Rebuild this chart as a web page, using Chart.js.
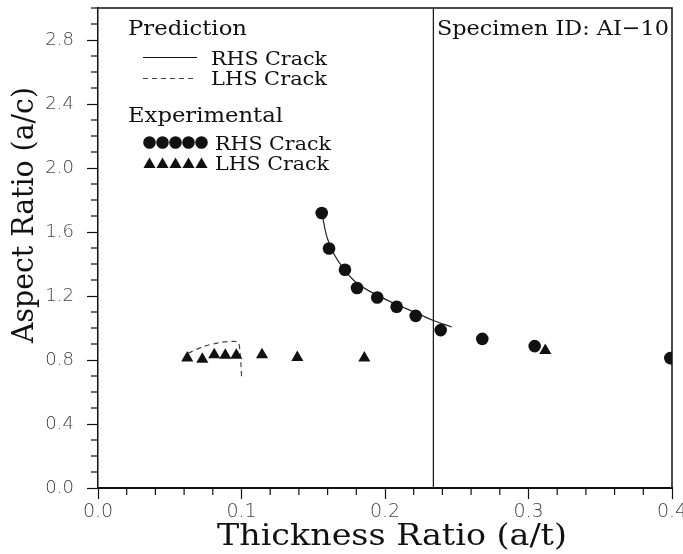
<!DOCTYPE html>
<html>
<head>
<meta charset="utf-8">
<script src="https://cdn.jsdelivr.net/npm/chart.js@4.4.0/dist/chart.umd.min.js"></script>
<style>
  body { margin: 0; background: #fff; }
</style>
</head>
<body>
<canvas id="crackChart" width="683" height="554"></canvas>
<script>
// Experimental data, RHS crack (circles)
const rhsExpX = [0.1559, 0.1610, 0.1721, 0.1805, 0.1946, 0.2081, 0.2214, 0.2388, 0.2678, 0.3043, 0.3988];
const rhsExpY = [1.719, 1.497, 1.364, 1.250, 1.191, 1.133, 1.076, 0.987, 0.932, 0.887, 0.812];

// Experimental data, LHS crack (triangles)
const lhsExpX = [0.0622, 0.0727, 0.0810, 0.0887, 0.0964, 0.1143, 0.1389, 0.1856, 0.3117];
const lhsExpY = [0.812, 0.804, 0.833, 0.830, 0.829, 0.833, 0.816, 0.812, 0.860];

// Prediction, RHS crack (solid line)
const rhsPredX = [0.1562, 0.1594, 0.1640, 0.1709, 0.1803, 0.1918, 0.2058, 0.2221, 0.2337, 0.2465];
const rhsPredY = [1.710, 1.573, 1.469, 1.375, 1.281, 1.218, 1.156, 1.093, 1.047, 1.006];

// Prediction, LHS crack (dashed line)
const lhsPredX = [0.0629, 0.0734, 0.0850, 0.0943, 0.0978, 0.0990, 0.0997, 0.1001];
const lhsPredY = [0.843, 0.884, 0.909, 0.916, 0.909, 0.843, 0.759, 0.686];

// Vertical specimen marker line
const specimenX = [0.2337, 0.2337];
const specimenY = [0, 3];

// Axis ranges / ticks
const xRange = [0, 0.4];
const yRange = [0, 3];
const xStep = 0.02;
const yStep = 0.1;

const toPoints = (xs, ys) => xs.map((x, i) => ({ x: x, y: ys[i] }));

function isMajorX(v) { return Math.round(v * 100) % 10 === 0; }
function isMajorY(v) { return Math.round(v * 10) % 4 === 0; }

// Draw text stretched to a given width (reference font is wide)
function fitText(ctx, text, x, y, width, size) {
    ctx.save();
    ctx.font = size + 'px "DejaVu Serif"';
    const w = ctx.measureText(text).width;
    ctx.translate(x, y);
    ctx.scale(width / w, 1);
    ctx.textAlign = 'left';
    ctx.textBaseline = 'alphabetic';
    ctx.fillStyle = '#111';
    ctx.fillText(text, 0, 0);
    ctx.restore();
}

function drawCircle(ctx, x, y, r) {
    ctx.beginPath();
    ctx.arc(x, y, r, 0, Math.PI * 2);
    ctx.fill();
}

function drawTriangle(ctx, x, y, r) {
    ctx.beginPath();
    for (let k = 0; k < 3; k++) {
        const a = k * 2 * Math.PI / 3;
        const px = x + Math.sin(a) * r;
        const py = y - Math.cos(a) * r;
        if (k === 0) ctx.moveTo(px, py); else ctx.lineTo(px, py);
    }
    ctx.closePath();
    ctx.fill();
}

const decorPlugin = {
    id: 'decor',
    afterDraw(chart) {
        const ctx = chart.ctx;
        const area = chart.chartArea;
        const xs = chart.scales.x;
        const ys = chart.scales.y;

        ctx.save();
        ctx.strokeStyle = '#111';
        ctx.fillStyle = '#111';

        // top and right frame
        ctx.lineWidth = 1.5;
        ctx.beginPath();
        ctx.moveTo(area.left, area.top);
        ctx.lineTo(area.right, area.top);
        ctx.lineTo(area.right, area.bottom);
        ctx.stroke();

        // minor ticks
        ctx.lineWidth = 1.2;
        ys.ticks.forEach(t => {
            if (isMajorY(t.value)) return;
            const py = ys.getPixelForValue(t.value);
            ctx.beginPath();
            ctx.moveTo(area.left - 7, py);
            ctx.lineTo(area.left, py);
            ctx.stroke();
        });
        xs.ticks.forEach(t => {
            if (isMajorX(t.value)) return;
            const px = xs.getPixelForValue(t.value);
            ctx.beginPath();
            ctx.moveTo(px, area.bottom);
            ctx.lineTo(px, area.bottom + 7);
            ctx.stroke();
        });

        // legend
        fitText(ctx, 'Prediction', 128, 35, 119, 21);
        ctx.lineWidth = 1.2;
        ctx.beginPath();
        ctx.moveTo(143, 57.5);
        ctx.lineTo(197, 57.5);
        ctx.stroke();
        fitText(ctx, 'RHS Crack', 211, 65, 116, 18);
        ctx.setLineDash([5, 4]);
        ctx.strokeStyle = '#444';
        ctx.beginPath();
        ctx.moveTo(143, 78.5);
        ctx.lineTo(197, 78.5);
        ctx.stroke();
        ctx.setLineDash([]);
        ctx.strokeStyle = '#111';
        fitText(ctx, 'LHS Crack', 211, 85, 116, 18);

        fitText(ctx, 'Experimental', 128, 122, 155, 21);
        for (let k = 0; k < 5; k++) {
            drawCircle(ctx, 149.5 + k * 13, 142.5, 6.3);
            drawTriangle(ctx, 149.5 + k * 13, 164.5, 7);
        }
        fitText(ctx, 'RHS Crack', 215, 150, 116, 18);
        fitText(ctx, 'LHS Crack', 215, 170, 114, 18);

        // specimen id
        fitText(ctx, 'Specimen ID: AI\u221210', 437, 35, 232, 21);

        // axis titles
        fitText(ctx, 'Thickness Ratio (a/t)', 217, 545, 350, 30);
        ctx.save();
        ctx.translate(33, 343);
        ctx.rotate(-Math.PI / 2);
        fitText(ctx, 'Aspect Ratio (a/c)', 0, 0, 256, 30);
        ctx.restore();

        ctx.restore();
    }
};

const ctx = document.getElementById('crackChart').getContext('2d');

new Chart(ctx, {
    type: 'scatter',
    data: {
        datasets: [
            {
                label: 'Experimental RHS Crack',
                data: toPoints(rhsExpX, rhsExpY),
                pointStyle: 'circle',
                pointRadius: 6.3,
                pointHoverRadius: 6.3,
                backgroundColor: '#111',
                borderWidth: 0
            },
            {
                label: 'Experimental LHS Crack',
                data: toPoints(lhsExpX, lhsExpY),
                pointStyle: 'triangle',
                pointRadius: 7,
                pointHoverRadius: 7,
                backgroundColor: '#111',
                borderWidth: 0
            },
            {
                label: 'Prediction RHS Crack',
                data: toPoints(rhsPredX, rhsPredY),
                showLine: true,
                tension: 0.4,
                pointRadius: 0,
                borderColor: '#222',
                borderWidth: 1.2
            },
            {
                label: 'Prediction LHS Crack',
                data: toPoints(lhsPredX, lhsPredY),
                showLine: true,
                tension: 0.3,
                pointRadius: 0,
                borderColor: '#444',
                borderWidth: 1.2,
                borderDash: [5, 4]
            },
            {
                label: 'Specimen',
                data: toPoints(specimenX, specimenY),
                showLine: true,
                pointRadius: 0,
                borderColor: '#111',
                borderWidth: 1.2
            }
        ]
    },
    options: {
        responsive: false,
        animation: false,
        events: [],
        layout: {
            padding: { top: 8, right: 11, left: 0, bottom: 0 }
        },
        scales: {
            x: {
                type: 'linear',
                min: xRange[0],
                max: xRange[1],
                border: { color: '#111', width: 2 },
                grid: {
                    drawOnChartArea: false,
                    tickLength: 11,
                    tickWidth: 1.2,
                    tickColor: c => isMajorX(c.tick.value) ? '#111' : 'transparent'
                },
                ticks: {
                    stepSize: xStep,
                    autoSkip: false,
                    maxRotation: 0,
                    padding: 2,
                    color: '#444',
                    font: { family: 'DejaVu Sans', size: 19, weight: 300 },
                    callback: v => isMajorX(v) ? v.toFixed(1) : ''
                },
                afterFit: s => { s.height = 66; s.paddingLeft = 0; s.paddingRight = 0; }
            },
            y: {
                type: 'linear',
                min: yRange[0],
                max: yRange[1],
                border: { color: '#111', width: 1.5 },
                grid: {
                    drawOnChartArea: false,
                    tickLength: 11,
                    tickWidth: 1.2,
                    tickColor: c => isMajorY(c.tick.value) ? '#111' : 'transparent'
                },
                ticks: {
                    stepSize: yStep,
                    autoSkip: false,
                    padding: 13,
                    color: '#444',
                    font: { family: 'DejaVu Sans', size: 18, weight: 300 },
                    callback: v => (isMajorY(v) && Math.round(v * 10) < 30) ? v.toFixed(1) : ''
                },
                afterFit: s => { s.width = 98; s.paddingTop = 0; s.paddingBottom = 0; }
            }
        },
        plugins: {
            legend: { display: false },
            tooltip: { enabled: false }
        }
    },
    plugins: [decorPlugin]
});
</script>
</body>
</html>
